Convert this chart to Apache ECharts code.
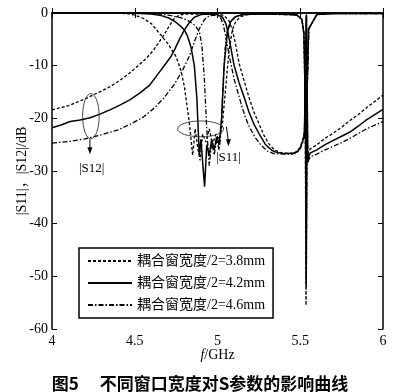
<!DOCTYPE html>
<html><head><meta charset="utf-8">
<script src="https://cdn.jsdelivr.net/npm/echarts@6/dist/echarts.min.js"></script>
<style>html,body{margin:0;padding:0;background:#fff}#c{width:400px;height:392px}</style>
</head><body><div id="c"></div>
<script>
// ---- data ----
const seriesNames = ['耦合窗宽度/2=3.8mm', '耦合窗宽度/2=4.2mm', '耦合窗宽度/2=4.6mm'];
const xTicks = [4, 4.5, 5, 5.5, 6];
const yTicks = [-60, -50, -40, -30, -20, -10, 0];

// |S12| curves
const s12_38_f  = [4.00,4.10,4.20,4.30,4.35,4.40,4.47,4.52,4.57,4.61,4.65,4.68,4.70,4.72,4.74,4.77,4.80,4.90,5.00,5.04,5.07,5.09,5.11,5.13,5.16,5.19,5.22,5.25,5.28,5.31,5.34,5.37,5.40,5.45,5.48,5.50,5.515,5.525,5.532,5.536,5.540,5.545,5.55,5.56,5.60,5.65,5.70,5.75,5.80,5.85,5.90,5.95,6.00];
const s12_38_db = [-18.4,-17.6,-16.3,-14.8,-14.0,-13.0,-11.4,-10.0,-8.6,-7.2,-5.4,-4.0,-2.9,-1.9,-1.0,-0.4,-0.2,-0.2,-0.2,-0.5,-1.5,-3.2,-6.0,-9.5,-12.8,-16.0,-18.8,-21.0,-23.2,-24.8,-25.9,-26.4,-26.6,-26.6,-26.3,-25.5,-24.0,-22.5,-10,-0.5,-10,-27,-26.5,-25.8,-25.0,-23.8,-22.8,-21.7,-20.4,-19.3,-18.0,-16.8,-15.6];

const s12_42_f  = [4.00,4.05,4.11,4.17,4.23,4.29,4.35,4.41,4.47,4.53,4.59,4.64,4.69,4.72,4.74,4.77,4.80,4.83,4.86,4.90,4.95,5.00,5.03,5.05,5.062,5.08,5.10,5.13,5.163,5.19,5.223,5.26,5.29,5.33,5.36,5.40,5.45,5.48,5.50,5.515,5.525,5.532,5.537,5.541,5.545,5.55,5.56,5.60,5.65,5.70,5.75,5.80,5.85,5.90,5.95,6.00];
const s12_42_db = [-21.8,-21.3,-20.6,-20.3,-19.9,-19.2,-18.4,-17.5,-16.5,-15.2,-13.7,-11.6,-9.5,-8.2,-7.0,-5.0,-3.2,-1.8,-0.8,-0.3,-0.2,-0.3,-0.8,-2.0,-3.5,-6.5,-9.9,-13.2,-16.2,-18.8,-21.3,-23.4,-25.0,-26.1,-26.5,-26.7,-26.7,-26.4,-25.6,-24.3,-23.0,-10,-0.3,-12,-28,-27.3,-26.6,-26.0,-25.0,-24.2,-23.4,-22.6,-21.5,-20.3,-19.3,-18.3];

const s12_46_f  = [4.00,4.10,4.20,4.30,4.40,4.48,4.55,4.62,4.68,4.74,4.79,4.83,4.86,4.89,4.92,4.95,5.00,5.02,5.035,5.05,5.07,5.10,5.133,5.165,5.19,5.225,5.26,5.30,5.34,5.40,5.45,5.48,5.50,5.515,5.525,5.532,5.538,5.542,5.546,5.55,5.56,5.60,5.65,5.70,5.75,5.80,5.85,5.90,5.95,6.00];
const s12_46_db = [-24.7,-24.4,-23.9,-23.1,-22.2,-21.0,-19.8,-18.0,-16.0,-13.5,-10.8,-8.2,-5.5,-3.0,-1.3,-0.5,-0.4,-1.0,-2.2,-4.5,-8.0,-12.5,-16.2,-19.5,-21.5,-23.5,-25.0,-26.2,-26.7,-26.8,-26.8,-26.5,-25.8,-24.6,-23.5,-10,-0.5,-12,-28.5,-28.0,-27.3,-26.8,-26.0,-25.3,-24.6,-23.8,-22.9,-22.0,-21.3,-20.6];

// |S11| curves
const s11_38_f  = [4.00,4.40,4.45,4.50,4.55,4.60,4.65,4.70,4.75,4.78,4.80,4.83,4.85,4.865,4.88,4.895,4.91,4.93,4.95,4.97,4.99,5.01,5.03,5.05,5.07,5.09,5.11,5.14,5.18,5.25,5.40,5.48,5.51,5.522,5.530,5.535,5.541,5.552,5.60,5.70,6.00];
const s11_38_db = [0,-0.05,-0.1,-0.4,-1.0,-2.0,-3.9,-5.8,-8.3,-11,-14,-20.9,-27,-22,-25.5,-28,-23,-24.5,-22,-25,-23,-24,-21,-14,-7,-3.2,-1.6,-0.7,-0.3,-0.2,-0.2,-0.4,-1.2,-4,-18,-55.5,-15,-3,-0.3,-0.1,-0.1];

const s11_42_f  = [4.00,4.50,4.60,4.66,4.71,4.75,4.78,4.80,4.82,4.84,4.86,4.875,4.89,4.90,4.912,4.922,4.935,4.95,4.965,4.98,4.995,5.01,5.025,5.04,5.06,5.08,5.11,5.15,5.25,5.40,5.48,5.51,5.522,5.531,5.536,5.541,5.55,5.60,5.70,6.00];
const s11_42_db = [0,-0.05,-0.2,-0.5,-1.0,-1.8,-2.6,-3.2,-4.5,-6.5,-10,-16,-27,-24,-29,-33,-25,-27,-24,-26,-23.5,-25,-20,-10,-3.5,-1.6,-0.7,-0.3,-0.2,-0.2,-0.4,-1.2,-4,-18,-52,-15,-3,-0.3,-0.1,-0.1];

const s11_46_f  = [4.00,4.55,4.65,4.72,4.78,4.82,4.85,4.87,4.89,4.905,4.92,4.935,4.95,4.965,4.98,4.995,5.01,5.02,5.03,5.045,5.06,5.08,5.11,5.16,5.30,5.48,5.51,5.523,5.532,5.537,5.542,5.552,5.60,5.70,6.00];
const s11_46_db = [0,-0.05,-0.2,-0.5,-0.9,-1.4,-2.0,-2.6,-3.5,-6,-12,-22,-29,-24.5,-27,-24,-26,-23,-16,-7,-3.2,-1.5,-0.6,-0.3,-0.2,-0.4,-1.2,-4,-18,-50,-15,-3,-0.3,-0.1,-0.1];

// annotation anchors in data units
const ann12 = {cx:4.235, cy:-19.6, rxF:0.05, ryDb:4.3, arrowFrom:[4.229,-24.0], arrowTo:[4.229,-26.8], label:[4.24,-29.6], text:'|S12|'};
const ann11 = {cx:4.898, cy:-22.0, rxF:0.139, ryDb:1.5, arrowFrom:[5.054,-21.6], arrowTo:[5.066,-25.3], label:[5.066,-27.4], text:'|S11|'};

// ---- chart ----
const pairs = (f, d) => f.map((x, i) => [x, d[i]]);
const styles = [
  {type:[3,2], width:1.3},
  {type:'solid', width:1.5},
  {type:[5,2,1.5,2], width:1.3}
];
const serif = '"Liberation Serif", "DejaVu Serif", serif';
const mk = (name, idx, data) => ({
  name, type:'line', data, showSymbol:false, symbol:'none', animation:false,
  lineStyle:{color:'#000', width:styles[idx].width, type:styles[idx].type},
  itemStyle:{color:'#000'}
});
const chart = echarts.init(document.getElementById('c'), null, {renderer:'canvas'});
const axisCommon = {
  axisLine:{show:true, lineStyle:{color:'#000', width:1.5}},
  axisTick:{show:true, inside:true, length:5, lineStyle:{color:'#000', width:1}},
  splitLine:{show:false}
};
chart.setOption({
  animation:false,
  backgroundColor:'#fff',
  title:{
    text:'图5　 不同窗口宽度对S参数的影响曲线', left:'center', top:370,
    textStyle:{fontFamily:'"Noto Sans CJK SC"', fontSize:17, fontWeight:'bold', color:'#000'}
  },
  grid:{left:52, right:17, top:13, bottom:63, outerBoundsMode:'none', containLabel:false},
  legend:{
    orient:'vertical', left:79, top:248, padding:[6,8,6,8], itemGap:8,
    itemWidth:44, itemHeight:12, borderColor:'#000', borderWidth:1.5, backgroundColor:'#fff',
    itemStyle:{opacity:0},
    textStyle:{fontFamily:serif + ', "Noto Sans CJK SC"', fontSize:14, color:'#000'},
    data:seriesNames
  },
  xAxis:[
    Object.assign({type:'value', min:4, max:6, interval:0.5, position:'bottom',
      name:'{i|f}/GHz', nameLocation:'middle', nameGap:19, nameMoveOverlap:false,
      nameTextStyle:{fontFamily:serif, fontSize:14, color:'#000', rich:{i:{fontFamily:serif, fontStyle:'italic', fontSize:14, color:'#000'}}},
      axisLabel:{fontFamily:serif, fontSize:14, color:'#000', margin:5,
        formatter:v => xTicks.includes(v) ? String(v) : ''}}, axisCommon),
    Object.assign({type:'value', min:4, max:6, interval:0.5, position:'top', axisLabel:{show:false}}, axisCommon)
  ],
  yAxis:[
    Object.assign({type:'value', min:-60, max:0, interval:10, position:'left',
      name:'|S11|，|S12|/dB', nameLocation:'middle', nameGap:23, nameMoveOverlap:false,
      nameTextStyle:{fontFamily:serif + ', "Noto Sans CJK SC"', fontSize:14, color:'#000'},
      axisLabel:{fontFamily:serif, fontSize:14, color:'#000', margin:4,
        formatter:v => yTicks.includes(v) ? String(v) : ''}}, axisCommon),
    Object.assign({type:'value', min:-60, max:0, interval:10, position:'right', axisLabel:{show:false}}, axisCommon)
  ],
  series:[
    mk(seriesNames[0], 0, pairs(s12_38_f, s12_38_db)),
    mk(seriesNames[1], 1, pairs(s12_42_f, s12_42_db)),
    mk(seriesNames[2], 2, pairs(s12_46_f, s12_46_db)),
    mk(seriesNames[0], 0, pairs(s11_38_f, s11_38_db)),
    mk(seriesNames[1], 1, pairs(s11_42_f, s11_42_db)),
    mk(seriesNames[2], 2, pairs(s11_46_f, s11_46_db))
  ]
});

function annGraphics(a) {
  const P = p => chart.convertToPixel({xAxisIndex:0, yAxisIndex:0}, p);
  const c = P([a.cx, a.cy]);
  const e1 = P([a.cx + a.rxF, a.cy + a.ryDb]);
  const rx = Math.abs(e1[0] - c[0]), ry = Math.abs(e1[1] - c[1]);
  const p0 = P(a.arrowFrom), p1 = P(a.arrowTo), lb = P(a.label);
  return [
    {type:'ellipse', shape:{cx:c[0], cy:c[1], rx, ry}, style:{fill:'none', stroke:'#333', lineWidth:0.9}, z:100},
    {type:'line', shape:{x1:p0[0], y1:p0[1], x2:p1[0], y2:p1[1]-5}, style:{stroke:'#000', lineWidth:1}, z:100},
    {type:'polygon', shape:{points:[[p1[0]-2.5, p1[1]-7],[p1[0]+2.5, p1[1]-7],[p1[0], p1[1]]]}, style:{fill:'#000'}, z:100},
    {type:'text', style:{text:a.text, x:lb[0], y:lb[1], align:'center', verticalAlign:'middle', font:'13px "Liberation Serif", serif', fill:'#000'}, z:100}
  ];
}
chart.setOption({graphic:{elements:[...annGraphics(ann12), ...annGraphics(ann11)]}});
</script></body></html>
